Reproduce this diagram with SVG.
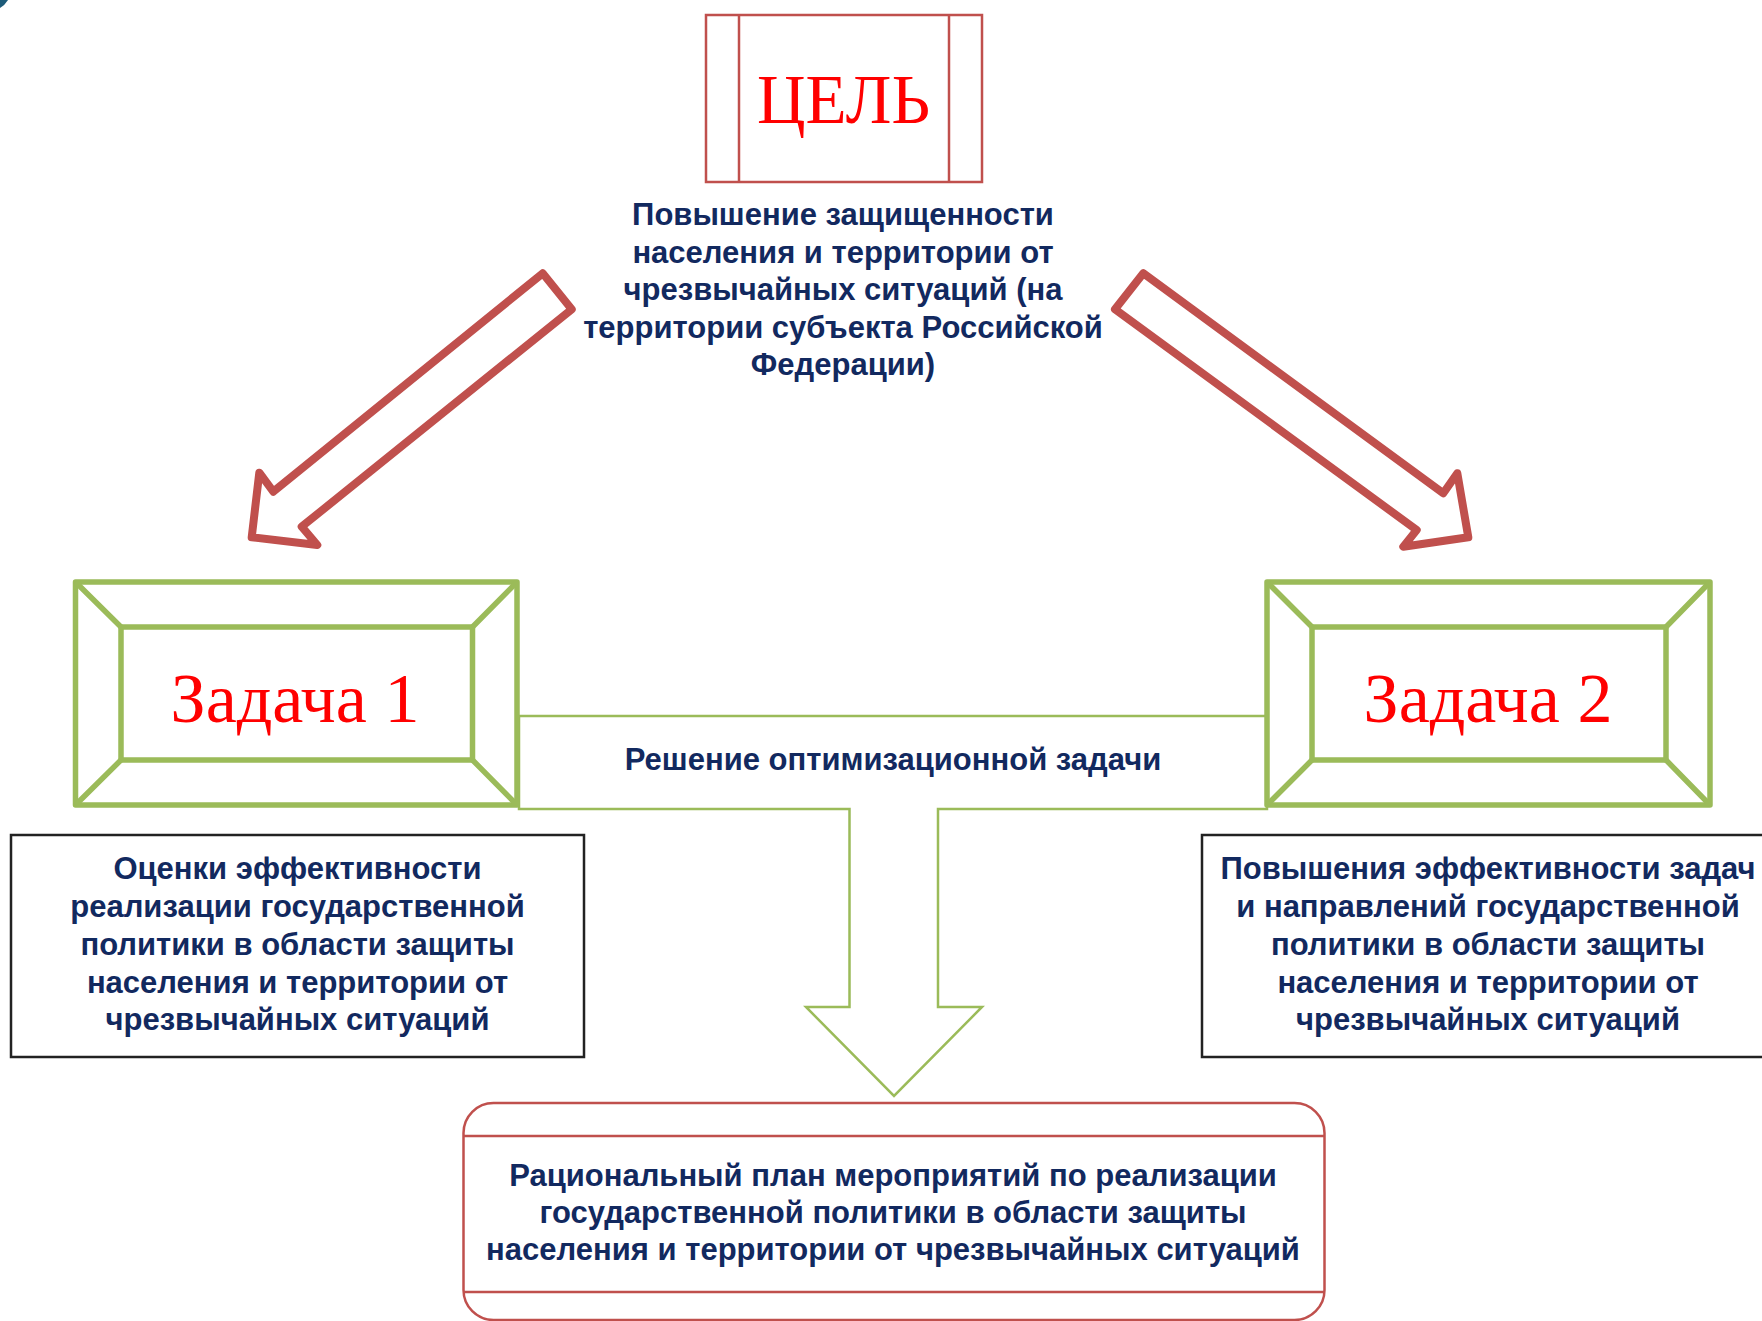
<svg xmlns="http://www.w3.org/2000/svg" width="1762" height="1321" viewBox="0 0 1762 1321">
<style>
.t{font-family:"Liberation Sans",Arial,sans-serif;font-weight:bold;font-size:31px;fill:#12295f;text-anchor:middle}
.big{font-family:"Liberation Serif","Times New Roman",serif;fill:#ff0000;text-anchor:middle}
.red{fill:#fff;stroke:#c0504d;stroke-width:2.5}
.grn{fill:none;stroke:#9bbb59;stroke-width:5.5;stroke-linejoin:round}
.blk{fill:#fff;stroke:#222;stroke-width:2.5}
.arr{fill:#fff;stroke:#c0504d;stroke-width:8;stroke-linejoin:round}
.con{fill:#fff;stroke:#9bbb59;stroke-width:2.5}
</style>
<rect width="1762" height="1321" fill="#fff"/>
<path d="M0,0 H8 Q5,5 0,8 Z" fill="#1d5b79"/>
<g id="connectors">
<polygon class="arr" points="251.7,537.3 259.3,472.7 273.3,491.7 542.7,273.3 571.7,309.3 301.7,526.7 317.3,545"/>
<polygon class="arr" points="1143.3,273.3 1115,309.3 1416.7,530 1403.3,546.7 1468.3,537.3 1457.3,473.3 1443.3,493.3"/>
<path class="con" d="M519,716 H1267 V809 H938 V1007 H982 L894,1096 L806,1007 H849.5 V809 H519 Z"/>
<text class="t" x="893" y="770">Решение оптимизационной задачи</text>
</g>
<g id="goal">
<rect class="red" x="706" y="15" width="276" height="167"/>
<line x1="739" y1="15" x2="739" y2="182" stroke="#c0504d" stroke-width="2.5"/>
<line x1="949" y1="15" x2="949" y2="182" stroke="#c0504d" stroke-width="2.5"/>
<text class="big" x="843.5" y="123" font-size="70" textLength="173" lengthAdjust="spacingAndGlyphs">ЦЕЛЬ</text>
</g>
<g id="goal-text">
<text class="t" x="843" y="225">Повышение защищенности</text>
<text class="t" x="843" y="262.5">населения и территории от</text>
<text class="t" x="843" y="300">чрезвычайных ситуаций (на</text>
<text class="t" x="843" y="337.5">территории субъекта Российской</text>
<text class="t" x="843" y="375">Федерации)</text>
</g>
<g id="task1">
<rect class="grn" x="75.5" y="582" width="441.5" height="223"/>
<rect class="grn" x="121" y="627" width="351.5" height="133"/>
<path class="grn" d="M75.5,582 L121,627 M517,582 L472.5,627 M75.5,805 L121,760 M517,805 L472.5,760"/>
<text class="big" x="295" y="722" font-size="70">Задача 1</text>
</g>
<g id="task2">
<rect class="grn" x="1267" y="582" width="443" height="223"/>
<rect class="grn" x="1312" y="627" width="354" height="133"/>
<path class="grn" d="M1267,582 L1312,627 M1710,582 L1666,627 M1267,805 L1312,760 M1710,805 L1666,760"/>
<text class="big" x="1488" y="722" font-size="70">Задача 2</text>
</g>
<g id="box1">
<rect class="blk" x="11" y="835" width="573" height="222"/>
<text class="t" x="297.5" y="879">Оценки эффективности</text>
<text class="t" x="297.5" y="917">реализации государственной</text>
<text class="t" x="297.5" y="955">политики в области защиты</text>
<text class="t" x="297.5" y="992.5">населения и территории от</text>
<text class="t" x="297.5" y="1030">чрезвычайных ситуаций</text>
</g>
<g id="box2">
<rect class="blk" x="1202" y="835" width="572" height="222"/>
<text class="t" x="1488" y="879">Повышения эффективности задач</text>
<text class="t" x="1488" y="917">и направлений государственной</text>
<text class="t" x="1488" y="955">политики в области защиты</text>
<text class="t" x="1488" y="992.5">населения и территории от</text>
<text class="t" x="1488" y="1030">чрезвычайных ситуаций</text>
</g>
<g id="plan">
<rect class="red" x="463.5" y="1103" width="861" height="217" rx="30" ry="30"/>
<line x1="463.5" y1="1136" x2="1324.5" y2="1136" stroke="#c0504d" stroke-width="2.5"/>
<line x1="463.5" y1="1292" x2="1324.5" y2="1292" stroke="#c0504d" stroke-width="2.5"/>
<text class="t" x="893" y="1186">Рациональный план мероприятий по реализации</text>
<text class="t" x="893" y="1223">государственной политики в области защиты</text>
<text class="t" x="893" y="1260">населения и территории от чрезвычайных ситуаций</text>
</g>
</svg>
